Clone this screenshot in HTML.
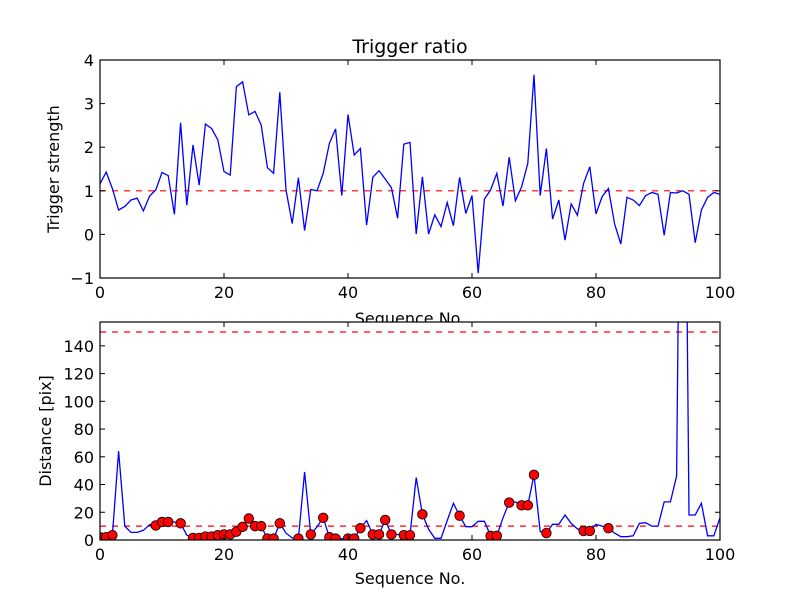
<!DOCTYPE html>
<html><head><meta charset="utf-8"><style>
html,body{margin:0;padding:0;background:#fff}
svg{display:block;font-family:"DejaVu Sans","Liberation Sans",sans-serif}
</style></head><body>
<svg id="chart" width="800" height="600" xmlns="http://www.w3.org/2000/svg">
<rect width="800" height="600" fill="#fff"/>
<g id="top"></g>
<g id="bot"></g>
</svg>
<script>
const seqTop = [];
const ratioValues = [1.16,1.43,1.05,0.56,0.64,0.79,0.83,0.54,0.88,1.02,1.42,1.35,0.46,2.56,0.67,2.05,1.13,2.53,2.43,2.17,1.44,1.36,3.39,3.50,2.74,2.82,2.51,1.53,1.40,3.26,1.02,0.25,1.30,0.09,1.03,1.0,1.40,2.09,2.42,0.89,2.75,1.82,1.97,0.21,1.31,1.46,1.27,1.07,0.37,2.07,2.11,0.01,1.32,0.01,0.45,0.18,0.73,0.20,1.31,0.48,0.89,-0.89,0.81,1.02,1.40,0.65,1.77,0.77,1.09,1.63,3.66,0.89,1.97,0.35,0.79,-0.13,0.70,0.44,1.17,1.55,0.47,0.87,1.05,0.24,-0.22,0.85,0.79,0.66,0.89,0.96,0.92,-0.02,0.96,0.95,1.0,0.92,-0.19,0.56,0.85,0.96,0.92];
const distValues = [2,2,3.5,64,10,5.5,5.5,7,11,10.5,13,13,13,12,3.5,1.5,1.5,2.5,2.5,3.5,4,4,6,9.5,15.5,10,10,1,1,12,5,1.5,1,49,4,9.5,16,2,1,1,1,1,8.5,14,4,4,14.5,4,4,3.5,3.5,45,18.5,7.7,1.2,1.2,14,26.5,17.5,9.6,9.6,13.5,13.5,3,3,16,27,27.5,25,25,47,6,5,11.3,11.3,18,12,8,6.5,6.5,11.3,10,8.5,5,2.4,2.4,3,12,12.5,10,10,27.5,27.5,46,500,18,18,26.5,3,3,16];
const markerIdx = [0,1,2,9,10,11,13,15,16,17,18,19,20,21,22,23,24,25,26,27,28,29,32,34,36,37,38,40,41,42,44,45,46,47,49,50,52,58,63,64,66,68,69,70,72,78,79,82];
const xTicks = [0,20,40,60,80,100];
const topYTicks = [-1,0,1,2,3,4];
const botYTicks = [0,20,40,60,80,100,120,140];
const topThreshold = 1;
const botThresholds = [10,150];

const NS="http://www.w3.org/2000/svg";
function mk(tag,attrs,parent,text){const e=document.createElementNS(NS,tag);for(const k in attrs)e.setAttribute(k,attrs[k]);if(text!==undefined)e.textContent=text;parent.appendChild(e);return e;}
const X0=100,X1=720;
const xs=v=>X0+(v-0)/(100-0)*(X1-X0);

function axes(g,y0,y1,ymin,ymax,yt,name){
  const ys=v=>y1-(v-ymin)/(ymax-ymin)*(y1-y0);
  const bg=mk('rect',{x:X0,y:y0,width:X1-X0,height:y1-y0,fill:'#fff'},g);
  
  
  const cid='clip-'+name;
  const cp=mk('clipPath',{id:cid},g);mk('rect',{x:X0,y:y0,width:X1-X0,height:y1-y0},cp);
  return {ys,cid};
}
function frame(g,y0,y1,ys,yt,name){
  const f=mk('rect',{x:X0,y:y0,width:X1-X0,height:y1-y0,fill:'none',stroke:'#000','stroke-width':1.2},g);
  
  
  xTicks.forEach(t=>{const x=xs(t);
    mk('line',{x1:x,x2:x,y1:y1,y2:y1-5,stroke:'#000'},g);
    mk('line',{x1:x,x2:x,y1:y0,y2:y0+5,stroke:'#000'},g);
    const l=mk('text',{x:x,y:y1+20,'text-anchor':'middle','font-size':16},g,String(t));
    
    
  });
  yt.forEach(t=>{const y=ys(t);
    mk('line',{x1:X0,x2:X0+5,y1:y,y2:y,stroke:'#000'},g);
    mk('line',{x1:X1,x2:X1-5,y1:y,y2:y,stroke:'#000'},g);
    const l=mk('text',{x:X0-6,y:y+6,'text-anchor':'end','font-size':16},g,t<0?'\u2212'+(-t):String(t));
    
    
  });
}
function path(vals,xsf,ysf){return vals.map((v,i)=>(i?'L':'M')+xsf(i).toFixed(1)+','+ysf(v).toFixed(1)).join('');}

// TOP
const gt=document.getElementById('top');
const T=axes(gt,60,278,-1,4,topYTicks,'top');
const tl=mk('line',{x1:X0,x2:X1,y1:T.ys(topThreshold),y2:T.ys(topThreshold),stroke:'#f00','stroke-width':1.2,'stroke-dasharray':'6,6'},gt);


const tp=mk('path',{d:path(ratioValues,xs,T.ys),fill:'none',stroke:'#00f','stroke-width':1.3,'clip-path':'url(#'+T.cid+')'},gt);


frame(gt,60,278,T.ys,topYTicks,'top');
const tt=mk('text',{x:410,y:53,'text-anchor':'middle','font-size':19},gt,'Trigger ratio');


const tyl=mk('text',{x:0,y:0,'text-anchor':'middle','font-size':16,transform:'translate(59,169) rotate(-90)'},gt,'Trigger strength');


const txl=mk('text',{x:410,y:324,'text-anchor':'middle','font-size':16},gt,'Sequence No.');



// BOTTOM
const gb=document.getElementById('bot');
const B=axes(gb,322,540,0,157.2,botYTicks,'bottom');
botThresholds.forEach(v=>{
  const l=mk('line',{x1:X0,x2:X1,y1:B.ys(v),y2:B.ys(v),stroke:'#f00','stroke-width':1.2,'stroke-dasharray':'6,6'},gb);
  
  
});
const bp=mk('path',{d:path(distValues,xs,B.ys),fill:'none',stroke:'#00f','stroke-width':1.3,'clip-path':'url(#'+B.cid+')'},gb);


const mg=mk('g',{'clip-path':'url(#'+B.cid+')'},gb);
markerIdx.forEach(i=>{
  const c=mk('circle',{cx:xs(i),cy:B.ys(distValues[i]),r:4.8,fill:'#f00',stroke:'#000','stroke-width':0.8},mg);
  
  
});
frame(gb,322,540,B.ys,botYTicks,'bottom');
const byl=mk('text',{x:0,y:0,'text-anchor':'middle','font-size':16,transform:'translate(51,431) rotate(-90)'},gb,'Distance [pix]');


const bxl=mk('text',{x:410,y:584,'text-anchor':'middle','font-size':16},gb,'Sequence No.');


</script>
</body></html>
